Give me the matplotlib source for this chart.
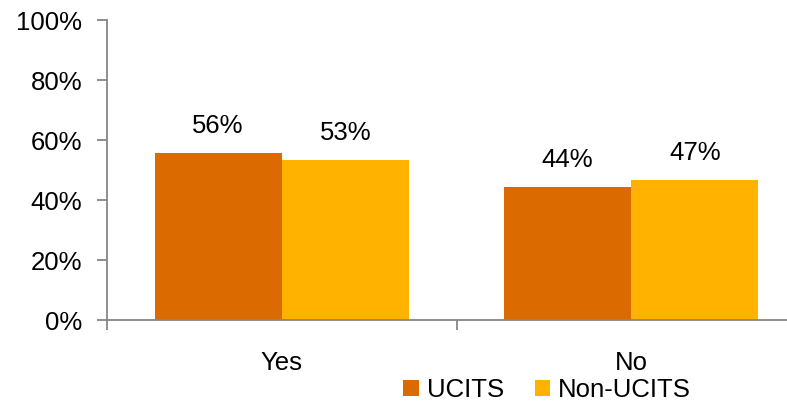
import matplotlib
matplotlib.use("Agg")
import matplotlib.pyplot as plt
import numpy as np

plt.rcParams['font.family'] = ['Liberation Sans', 'DejaVu Sans']

categories = ["Yes", "No"]
series_names = ["UCITS", "Non-UCITS"]
ucits = [55.6, 44.4]
non_ucits = [53.3, 46.7]
labels_ucits = ["56%", "44%"]
labels_non = ["53%", "47%"]
colors = ["#DB6A00", "#FFB300"]

fig = plt.figure(figsize=(7.87, 4.04), dpi=100)
ax = fig.add_axes([107/787, 1-320/404, 699/787, 300/404])

x = np.arange(len(categories))
w = 0.364
b1 = ax.bar(x - w/2, ucits, w, color=colors[0], label=series_names[0])
b2 = ax.bar(x + w/2, non_ucits, w, color=colors[1], label=series_names[1])

for bars, labs in ((b1, labels_ucits), (b2, labels_non)):
    for r, t in zip(bars, labs):
        ax.annotate(t, (r.get_x() + r.get_width()/2, r.get_height()),
                    xytext=(0, 11), textcoords="offset points",
                    ha="center", va="bottom", fontsize=18.5)

ax.set_xlim(-0.5, 1.5)
ax.set_ylim(0, 100)
ax.set_yticks(np.arange(0, 101, 20))
ax.set_yticklabels([f"{v}%" for v in range(0, 101, 20)], fontsize=18.5)
ax.set_xticks([-0.5, 0.5, 1.5])
ax.set_xticklabels([])
ax.set_xticks(x, minor=True)
ax.set_xticklabels(categories, minor=True, fontsize=18.5)
ax.tick_params(axis='x', which='minor', length=0, pad=22)
ax.tick_params(axis='x', which='major', length=7, color="#868686", width=1.3)
ax.tick_params(axis='y', length=7, color="#868686", width=1.3, pad=11)

for s in ["top", "right"]:
    ax.spines[s].set_visible(False)
for s in ["left", "bottom"]:
    ax.spines[s].set_color("#868686")
    ax.spines[s].set_linewidth(1.3)

fig.legend(handles=[b1, b2], labels=series_names, loc="center",
           bbox_to_anchor=(547/787, 1-390/404), ncol=2, frameon=False,
           fontsize=18.5, handlelength=0.6, handleheight=0.6,
           handletextpad=0.3, columnspacing=1.2, borderpad=0)

fig.savefig("out.png", dpi=100)
